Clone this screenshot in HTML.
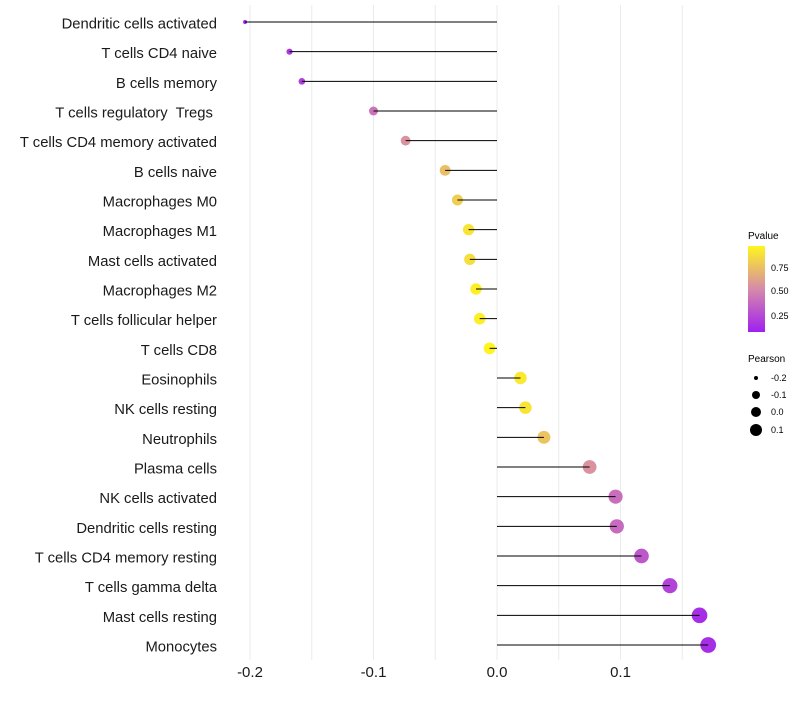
<!DOCTYPE html>
<html><head><meta charset="utf-8"><style>
body{margin:0;background:#fff;font-family:"Liberation Sans",sans-serif}
svg text{font-family:"Liberation Sans",sans-serif;white-space:pre}
</style></head><body>
<svg id="chart" width="800" height="700" xmlns="http://www.w3.org/2000/svg">
<defs><linearGradient id="pg" x1="0" y1="1" x2="0" y2="0">
<stop offset="0" stop-color="#a020f0"/><stop offset="0.5" stop-color="#d68aaa"/><stop offset="1" stop-color="#fff51e"/></linearGradient></defs>
<g id="grid"></g><g id="marks"></g><g id="labels"></g><g id="xticks"></g>
<g>
<text x="748" y="239" font-size="10">Pvalue</text>
<rect x="748" y="246" width="17" height="86" fill="url(#pg)"/>
<text x="771" y="271" font-size="9">0.75</text>
<text x="771" y="294" font-size="9">0.50</text>
<text x="771" y="319" font-size="9">0.25</text>
<text x="748" y="362" font-size="10">Pearson</text>
<circle cx="756" cy="378" r="2" fill="#000"/><text x="771" y="381" font-size="9">-0.2</text>
<circle cx="756" cy="395" r="4" fill="#000"/><text x="771" y="398" font-size="9">-0.1</text>
<circle cx="756" cy="412" r="5" fill="#000"/><text x="771" y="415" font-size="9">0.0</text>
<circle cx="756" cy="430" r="6" fill="#000"/><text x="771" y="433" font-size="9">0.1</text>
</g>
</svg>
<script>
const cells=["Dendritic cells activated","T cells CD4 naive","B cells memory","T cells regulatory  Tregs ","T cells CD4 memory activated","B cells naive","Macrophages M0","Macrophages M1","Mast cells activated","Macrophages M2","T cells follicular helper","T cells CD8","Eosinophils","NK cells resting","Neutrophils","Plasma cells","NK cells activated","Dendritic cells resting","T cells CD4 memory resting","T cells gamma delta","Mast cells resting","Monocytes"];
const pearson=[-0.204,-0.168,-0.158,-0.100,-0.074,-0.042,-0.032,-0.023,-0.022,-0.017,-0.014,-0.006,0.019,0.023,0.038,0.075,0.096,0.097,0.117,0.140,0.164,0.171];
const pvalue=[0.17,0.26,0.28,0.48,0.6,0.76,0.82,0.9,0.88,0.94,0.94,0.96,0.92,0.9,0.78,0.6,0.46,0.45,0.38,0.3,0.22,0.22];
const xTicks=[-0.2,-0.1,0.0,0.1];
const grid=[-0.2,-0.15,-0.1,-0.05,0,0.05,0.1,0.15];
const NS="http://www.w3.org/2000/svg";
const x=v=>497+v*1235;
const y=i=>22+i*(623/21);
const pmin=0.168,pmax=0.964;
function lerp(a,b,t){return a.map((c,k)=>Math.round(c+(b[k]-c)*t));}
function col(p){let t=Math.max(0,Math.min(1,(p-pmin)/(pmax-pmin)));const A=[160,32,240],M=[214,138,170],B=[255,245,30];const c=t<0.5?lerp(A,M,t*2):lerp(M,B,(t-0.5)*2);return`rgb(${c})`;}
const mn=Math.min(...pearson),mx=Math.max(...pearson);
const rad=v=>Math.sqrt(4+(v-mn)/(mx-mn)*58);
function mk(tag,attrs,parent){const e=document.createElementNS(NS,tag);for(const k in attrs)e.setAttribute(k,attrs[k]);document.getElementById(parent).appendChild(e);return e;}
grid.forEach(g=>{const l=mk("line",{x1:x(g),x2:x(g),y1:5,y2:660,stroke:"#ebebeb","stroke-width":1},"grid");

});
cells.forEach((c,i)=>{
const d=mk("circle",{cx:x(pearson[i]),cy:y(i),r:rad(pearson[i]),fill:col(pvalue[i])},"marks");


const l=mk("line",{x1:x(pearson[i]),x2:x(0),y1:y(i),y2:y(i),stroke:"#000","stroke-width":1},"marks");


const t=mk("text",{x:217,y:y(i)+6.5,"text-anchor":"end","font-size":14.8,fill:"#1a1a1a"},"labels");
t.textContent=c;


});
xTicks.forEach(v=>{const t=mk("text",{x:x(v),y:677,"text-anchor":"middle","font-size":15,fill:"#1a1a1a"},"xticks");
t.textContent=v.toFixed(1);

});
</script>
</body></html>
